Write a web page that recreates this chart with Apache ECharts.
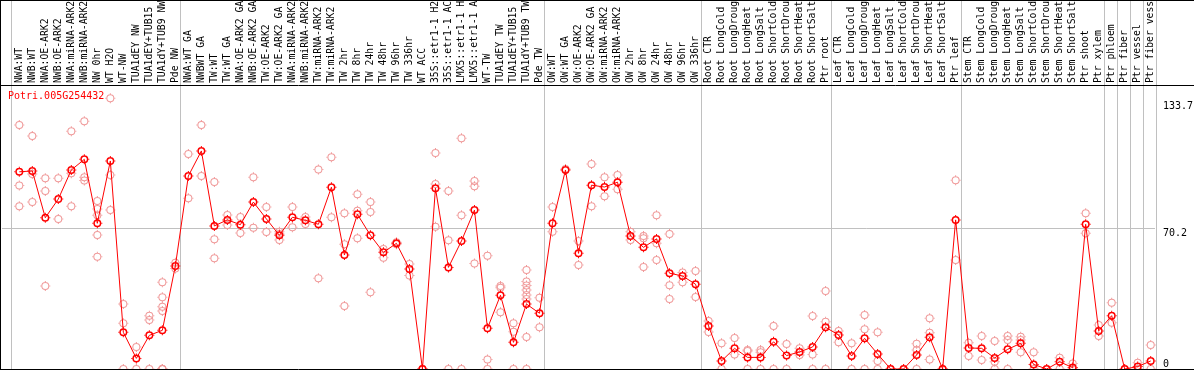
<!DOCTYPE html>
<html><head><meta charset="utf-8">
<script src="https://cdn.jsdelivr.net/npm/echarts@6/dist/echarts.min.js"></script>
<style>html,body{margin:0;padding:0;background:#fff;overflow:hidden}#c{width:1194px;height:370px}</style>
</head><body><div id="c"></div>
<script>
const geneName = 'Potri.005G254432';
const categories = [
 'NWA:WT','NWB:WT','NWA:OE-ARK2','NWB:OE-ARK2','NWA:miRNA-ARK2','NWB:miRNA-ARK2','NW 0hr','WT H2O','WT-NW','TUA1dEY NW','TUA1dEY+TUB15 NW','TUA1dY+TUB9 NW','Pde NW',
 'NWA:WT GA','NWBWT GA','TW:WT','TW:WT GA','NWA:OE-ARK2 GA','NWB:OE-ARK2 GA','TW:OE-ARK2','TW:OE-ARK2 GA','NWA:miRNA-ARK2 GA','NWB:miRNA-ARK2 GA','TW:miRNA-ARK2','TW:miRNA-ARK2 GA','TW 2hr','TW 8hr','TW 24hr','TW 48hr','TW 96hr','TW 336hr','WT ACC','35S::etr1-1 H2O','35S::etr1-1 ACC','LMX5::etr1-1 H2O','LMX5::etr1-1 ACC','WT-TW','TUA1dEY TW','TUA1dEY+TUB15 TW','TUA1dY+TUB9 TW','Pde TW',
 'OW:WT','OW:WT GA','OW:OE-ARK2','OW:OE-ARK2 GA','OW:miRNA-ARK2','OW:miRNA-ARK2 GA','OW 2hr','OW 8hr','OW 24hr','OW 48hr','OW 96hr','OW 336hr',
 'Root CTR','Root LongCold','Root LongDrought','Root LongHeat','Root LongSalt','Root ShortCold','Root ShortDrought','Root ShortHeat','Root ShortSalt','Ptr root',
 'Leaf CTR','Leaf LongCold','Leaf LongDrought','Leaf LongHeat','Leaf LongSalt','Leaf ShortCold','Leaf ShortDrought','Leaf ShortHeat','Leaf ShortSalt','Ptr leaf',
 'Stem CTR','Stem LongCold','Stem LongDrought','Stem LongHeat','Stem LongSalt','Stem ShortCold','Stem ShortDrought','Stem ShortHeat','Stem ShortSalt','Ptr shoot',
 'Ptr xylem','Ptr phloem','Ptr fiber','Ptr vessel','Ptr fiber vessel'
];
const means = [
 98.4,98.8,75.5,84.8,99.3,104.6,72.7,103.8,18.3,5.3,16.8,19.3,51.4,
 96.3,108.8,71.4,74.4,72.0,83.3,74.9,66.7,75.7,74.2,72.2,90.7,56.9,77.2,66.7,58.2,62.7,49.9,0,90.2,50.7,63.9,79.3,20.3,36.8,13.3,32.4,27.8,
 72.7,99.3,57.7,91.7,90.8,93.2,66.4,60.7,64.9,47.8,46.4,42.3,
 21.5,4.0,10.3,5.8,5.8,13.6,6.7,8.5,11.0,20.8,
 17.0,6.5,15.3,7.5,0,0,7.0,15.8,0,74.4,
 10.5,10.3,5.5,9.8,12.8,2.3,0,3.6,0.7,72.2,
 19.0,26.6,0,1.2,4.0
];
const replicates = [
 [121.8,91.5,81.2],[116.3,97.3,83.3],[95.2,88.8,41.4],[95.2,74.9],[118.6,97.7,81.2],[123.6,95.7,94.0],[83.8,79.8,76.7,66.9,56.0],[135.1,96.8,79.3],[32.4,22.8,0],[11.0,0],[26.6,24.5,0],[43.3,35.8,31.1,28.9,0,0,0],[53.0,50.2],
 [107.3,85.2],[121.8,96.3],[93.3,64.7,55.2],[76.8,71.9],[75.8,67.9],[95.7,70.5],[80.8,68.4],[68.5,67.3,64.4],[80.8,70.7],[75.8,72.4],[99.6,45.3],[105.6,75.7],[77.7,62.2,31.4],[87.2,79.0,65.2],[83.3,78.3,38.3],[59.9,55.5],[63.2,62.2],[52.4,46.6],[0,0],[107.8,92.3,71.0],[88.8,64.2,0],[115.1,76.7,0],[93.8,91.2,52.7],[56.5,4.8,0],[41.4,40.6,28.3],[22.8,18.6,0],[49.4,43.6,41.6,39.4,36.9,34.9,16.0,0],[35.6,20.8],
 [80.8,68.5],[99.8],[63.9,51.9],[102.3,81.2],[95.7,86.2],[96.8,89.7],[68.5,64.4],[66.4,65.2,50.9],[76.7,62.7,54.4],[67.4,41.8,34.9],[48.1,43.3],[48.9,35.9],
 [24.0,18.5],[12.8,0],[15.5,7.2],[9.5,9.0,0],[9.5,8.3,0],[21.5,0],[12.5,0],[10.3,7.0],[26.4,7.2,0],[38.9,23.6,0],
 [19.0,13.3],[12.8,0],[26.9,19.8,0],[18.3,4.0,0],[0],[0],[12.6,9.5,0],[25.3,18.1,4.8],[0],[94.2,54.4],
 [13.1,6.5],[16.5,4.5],[14.0,3.6,0],[16.5,14.5,0],[16.1,14.5,8.3],[8.3,0],[0],[5.6,0],[2.8,0],[77.7,67.7],
 [22.0,16.5],[33.1,23.1],[0],[3.1,0],[12.0,0]
];
// index of the last category of each group (first entry: the edge before the first group)
const groupLastIndex = [-1,12,40,52,62,72,83,84,85,86,87];
const yLabelValues = [0, 70.2, 133.7];
const refLineValue = 70.2;

const FONT = 'DejaVu Sans Mono';
const RED = '#ff0000';
const PALE = '#f09a9a';
const GRIDC = '#c0c0c0';

const paleSymbol = 'path://M1,5A4,4 0 1,1 9,5A4,4 0 1,1 1,5Z M2,5A3,3 0 1,0 8,5A3,3 0 1,0 2,5Z M4.5,0h1v1.2h-1Z M4.5,8.8h1v1.2h-1Z M0,4.5v1h1.2v-1Z M8.8,4.5v1h1.2v-1Z';
const meanSymbol = 'path://M1,5A4,4 0 1,1 9,5A4,4 0 1,1 1,5Z M2.5,5A2.5,2.5 0 1,0 7.5,5A2.5,2.5 0 1,0 2.5,5Z M4.5,0h1v1.2h-1Z M4.5,8.8h1v1.2h-1Z M0,4.5v1h1.2v-1Z M8.8,4.5v1h1.2v-1Z';

const repData = [];
replicates.forEach((arr, i) => arr.forEach(v => repData.push([i, v])));
const meanData = means.map((v, i) => [i, v]);
const sepData = groupLastIndex.map(i => [i + 0.385, 0]);

const chart = echarts.init(document.getElementById('c'), null, {renderer: 'canvas'});
chart.setOption({
  animation: false,
  backgroundColor: '#fff',
  title: {
    text: geneName, left: 8, top: 91, padding: 0,
    textStyle: {color: RED, fontFamily: FONT, fontSize: 10, fontWeight: 'normal'}
  },
  grid: {left: 2, right: 39, top: 85, bottom: 1, containLabel: false, outerBoundsMode: 'none'},
  xAxis: {
    type: 'value', min: -1.33, max: 87.33, position: 'top',
    axisLine: {show: false}, axisTick: {show: false}, splitLine: {show: false},
    axisLabel: {
      customValues: categories.map((_, i) => i),
      formatter: v => categories[Math.round(v)] || '',
      rotate: 90, margin: 2, fontFamily: FONT, fontSize: 9.75, color: '#000'
    }
  },
  yAxis: [
    {
      type: 'value', min: 0, max: 141.7, position: 'right',
      axisLine: {show: false}, axisTick: {show: false}, splitLine: {show: false},
      axisLabel: {customValues: yLabelValues.filter(v => v > 0), verticalAlign: 'top', align: 'left', margin: 8, fontFamily: FONT, fontSize: 10, color: '#000'}
    },
    {
      type: 'value', min: 0, max: 141.7, position: 'right',
      axisLine: {show: false}, axisTick: {show: false}, splitLine: {show: false},
      axisLabel: {customValues: yLabelValues.filter(v => v === 0), verticalAlign: 'bottom', align: 'left', margin: 8, fontFamily: FONT, fontSize: 10, color: '#000'}
    }
  ],
  graphic: [
    {type: 'line', shape: {x1: 0, y1: 0.5, x2: 1194, y2: 0.5}, style: {stroke: '#000', lineWidth: 1}, z: 100},
    {type: 'line', shape: {x1: 0.5, y1: 0, x2: 0.5, y2: 370}, style: {stroke: '#000', lineWidth: 1}, z: 100},
    {type: 'line', shape: {x1: 0, y1: 85.5, x2: 1194, y2: 85.5}, style: {stroke: '#000', lineWidth: 1}, z: 100},
    {type: 'line', shape: {x1: 0, y1: 369.5, x2: 1194, y2: 369.5}, style: {stroke: '#000', lineWidth: 1}, z: 100}
  ],
  series: [
    {
      type: 'custom', clip: false, silent: true, z: 1,
      data: sepData,
      renderItem: (params, api) => {
        const p = api.coord([api.value(0), 0]);
        const x = Math.round(p[0]) + 0.5;
        return {type: 'line', shape: {x1: x, y1: 0, x2: x, y2: p[1] + 1}, style: {stroke: GRIDC, lineWidth: 1}};
      }
    },
    {
      type: 'scatter', z: 2, silent: true,
      data: repData, symbol: paleSymbol, symbolSize: 10,
      itemStyle: {color: PALE, opacity: 1},
      markLine: {
        silent: true, symbol: 'none', label: {show: false}, z: 1,
        lineStyle: {color: GRIDC, width: 1, type: 'solid'},
        data: [{yAxis: refLineValue}]
      }
    },
    {
      type: 'line', z: 3, silent: true,
      data: meanData, symbol: meanSymbol, symbolSize: 10, showAllSymbol: true,
      lineStyle: {color: RED, width: 1},
      itemStyle: {color: RED}
    }
  ]
});
</script></body></html>
